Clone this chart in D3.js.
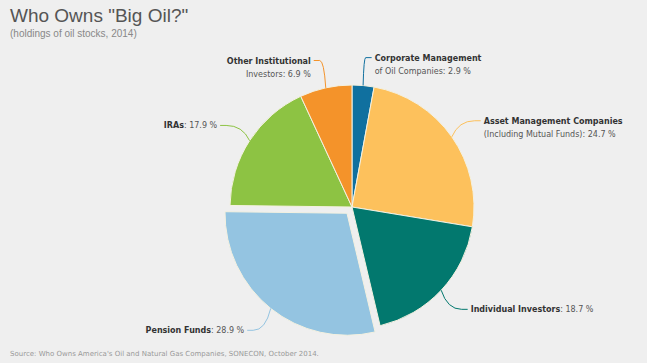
<!DOCTYPE html>
<html>
<head>
<meta charset="utf-8">
<script src="https://cdn.jsdelivr.net/npm/d3@7"></script>
<style>
  body { margin: 0; background: #efefef; }
  svg { display: block; }
</style>
</head>
<body>
<svg id="chart" width="647" height="363"></svg>
<script>
var categories = ["Corporate Management|of Oil Companies", "Asset Management Companies|(Including Mutual Funds)",
    "Individual Investors", "Pension Funds", "IRAs", "Other Institutional|Investors"];
var shares = [2.9, 24.7, 18.7, 28.9, 17.9, 6.9];
var colors = ["#10709f", "#fdc15c", "#02786e", "#94c4e1", "#8dc343", "#f4932a"];
var explodedSlice = "Pension Funds";

var svg = d3.select('#chart');
var cx = 352, cy = 207, radius = 122;

// titles
svg.append("text")
    .attr("x", 10).attr("y", 22)
    .style("font-family", "Liberation Sans, Arial, sans-serif")
    .style("font-size", "19px")
    .style("fill", "#555")
    .text('Who Owns "Big Oil?"');

svg.append("text")
    .attr("x", 10).attr("y", 37)
    .style("font-family", "Liberation Sans, Arial, sans-serif")
    .style("font-size", "10px")
    .style("fill", "#888")
    .text("(holdings of oil stocks, 2014)");

svg.append("text")
    .attr("x", 10).attr("y", 356)
    .style("font-family", "DejaVu Sans, Verdana, sans-serif")
    .style("font-size", "7px")
    .style("fill", "#999")
    .text("Source: Who Owns America's Oil and Natural Gas Companies, SONECON, October 2014.");

var data = categories.map(function(c, i) {
    return {name: c, value: shares[i], color: colors[i]};
});

var pie = d3.pie().sort(null).value(function(d){ return d.value; });
var arcs = pie(data);

var arc = d3.arc().innerRadius(0).outerRadius(radius);

var g = svg.append("g").attr("transform", "translate(" + cx + "," + cy + ")");

function offsetOf(d) {
    var mid = (d.startAngle + d.endAngle) / 2;
    var dist = d.data.name == explodedSlice ? 8 : 0;
    return [Math.sin(mid) * dist, -Math.cos(mid) * dist];
}

g.selectAll("path.slice")
    .data(arcs)
    .enter()
    .append("path")
    .attr("class", "slice")
    .attr("d", arc)
    .attr("transform", function(d){
        var o = offsetOf(d);
        return "translate(" + o[0] + "," + o[1] + ")";
    })
    .style("fill", function(d){ return d.data.color; })
    .style("stroke", "#f4f1e0")
    .style("stroke-width", 1);

// labels with curved connectors
arcs.forEach(function(d) {
    var mid = (d.startAngle + d.endAngle) / 2;
    var o = offsetOf(d);
    var sx = o[0] + Math.sin(mid) * radius, sy = o[1] - Math.cos(mid) * radius;
    var ex = o[0] + Math.sin(mid) * (radius + 28), ey = o[1] - Math.cos(mid) * (radius + 28);
    var right = Math.sin(mid) > 0;
    var lx = ex + (right ? 6 : -6);
    var qx = sx + (ex - sx) * 0.3, qy = ey;

    g.append("path")
        .attr("d", "M" + sx + "," + sy + "Q" + qx + "," + qy + " " + ex + "," + ey + "L" + lx + "," + ey)
        .style("fill", "none")
        .style("stroke", d.data.color)
        .style("stroke-width", 1);

    var parts = d.data.name.split("|");
    var t = g.append("text")
        .attr("x", lx + (right ? 3 : -3))
        .attr("y", ey + 3)
        .attr("text-anchor", right ? "start" : "end")
        .style("font-family", "DejaVu Sans, Verdana, sans-serif")
        .style("font-size", "8px")
        .style("fill", "#333");

    if (parts.length == 1) {
        t.append("tspan").style("font-weight", "bold").text(parts[0]);
        t.append("tspan").style("fill", "#555").text(": " + d.data.value + " %");
    } else {
        t.append("tspan").style("font-weight", "bold").text(parts[0]);
        t.append("tspan")
            .attr("x", lx + (right ? 3 : -3))
            .attr("dy", 13)
            .style("fill", "#555")
            .text(parts[1] + ": " + d.data.value + " %");
    }
});
</script>
</body>
</html>
